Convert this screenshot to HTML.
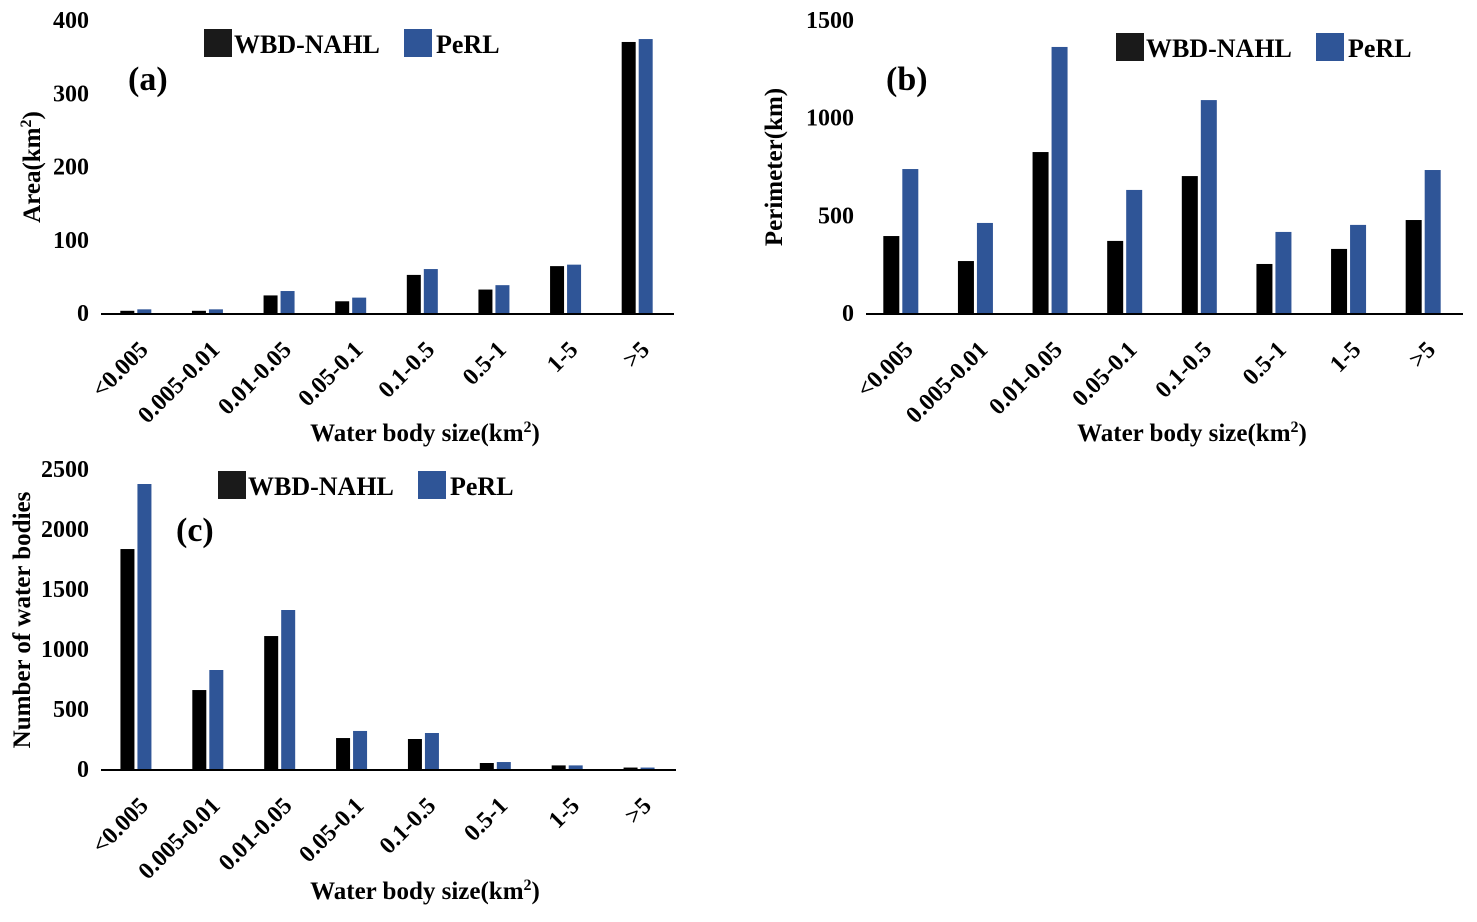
<!DOCTYPE html>
<html><head><meta charset="utf-8"><style>
body{margin:0;background:#fff;width:1477px;height:917px;overflow:hidden}
svg{font-family:"Liberation Serif",serif;font-weight:bold}
</style></head><body>
<svg id="s" width="1477" height="917"></svg>
<script>
const categories=["<0.005","0.005-0.01","0.01-0.05","0.05-0.1","0.1-0.5","0.5-1","1-5",">5"];
const areaWBD=[3,3,24,16,52,32,64,370];
const areaPeRL=[5,5,30,21,60,38,66,374];
const areaTicks=[0,100,200,300,400];
const perimWBD=[394,266,824,369,701,251,328,476];
const perimPeRL=[737,461,1362,630,1090,415,451,732];
const perimTicks=[0,500,1000,1500];
const countWBD=[1833,658,1108,258,250,50,30,12];
const countPeRL=[2375,825,1325,317,300,58,30,12];
const countTicks=[0,500,1000,1500,2000,2500];
const NS="http://www.w3.org/2000/svg";
const svg=document.getElementById('s');
function el(t,a,p){const e=document.createElementNS(NS,t);for(const k in a)e.setAttribute(k,a[k]);(p||svg).appendChild(e);return e;}
function chart(o){
 const g=el('g',{});
 
 
 const y=v=>o.y0-(v/o.max)*(o.y0-o.y1);
 const gw=(o.x1-o.x0)/categories.length;
 o.ticks.forEach(t=>{const tx=el('text',{x:o.x0-12,y:y(t)+8,'text-anchor':'end','font-size':24},g);tx.textContent=t;
  });
 categories.forEach((c,i)=>{
  const cx=o.x0+gw*(i+0.5);
  const b1=el('rect',{x:cx-o.off-o.bw-1,y:y(o.a[i]),width:o.bw,height:o.y0-y(o.a[i]),fill:'#000'},g);
  
  const b2=el('rect',{x:cx-o.off+2,y:y(o.b[i]),width:o.bw,height:o.y0-y(o.b[i]),fill:'#2f5597'},g);
  
  const tx=el('text',{x:0,y:0,'text-anchor':'end','font-size':24,transform:`translate(${cx-o.off+14},${o.y0+38}) rotate(-45)`},g);
  tx.textContent=c;
 });
 const ax=el('line',{x1:o.x0,x2:o.x1,y1:o.y0+1,y2:o.y0+1,stroke:'#000','stroke-width':2},g);
 
 const xt=el('text',{x:o.xtx,y:o.xty,'text-anchor':'middle','font-size':25},g);
 xt.innerHTML='Water body size(km<tspan font-size="16" dy="-9">2</tspan><tspan dy="9">)</tspan>';
 
 const yt=el('text',{x:0,y:0,'text-anchor':'middle','font-size':25,transform:`translate(${o.ytx},${o.yty}) rotate(-90)`},g);
 yt.innerHTML=o.ytitle;
 const pl=el('text',{x:o.plx,y:o.ply,'font-size':34},g);pl.textContent=o.panel;
 
 const l1=el('rect',{x:o.lx,y:o.ly,width:28,height:28,fill:'#1a1a1a'},g);
 
 const lt1=el('text',{x:o.lx+30,y:o.ly+24,'font-size':26},g);lt1.textContent='WBD-NAHL';
 
 const l2=el('rect',{x:o.lx+200,y:o.ly,width:28,height:28,fill:'#2f5597'},g);
 
 const lt2=el('text',{x:o.lx+232,y:o.ly+24,'font-size':26},g);lt2.textContent='PeRL';
 
}
chart({name:'chart-a-area',a:areaWBD,b:areaPeRL,ticks:areaTicks,max:400,x0:101,x1:674,y0:313,y1:20,bw:14,off:1.5,
 xtx:425,xty:441,ytx:40,yty:167,ytitle:'Area(km<tspan font-size="16" dy="-9">2</tspan><tspan dy="9">)</tspan>',
 panel:'(a)',plx:128,ply:90,lx:204,ly:29});
chart({name:'chart-b-perimeter',a:perimWBD,b:perimPeRL,ticks:perimTicks,max:1500,x0:866,x1:1463,y0:313,y1:20,bw:16,off:3,
 xtx:1192,xty:441,ytx:782,yty:167,ytitle:'Perimeter(km)',
 panel:'(b)',plx:886,ply:90,lx:1116,ly:33});
chart({name:'chart-c-count',a:countWBD,b:countPeRL,ticks:countTicks,max:2500,x0:101,x1:676,y0:769,y1:469,bw:14,off:1.5,
 xtx:425,xty:899,ytx:30,yty:620,ytitle:'Number of water bodies',
 panel:'(c)',plx:176,ply:541,lx:218,ly:471});
</script>
</body></html>
